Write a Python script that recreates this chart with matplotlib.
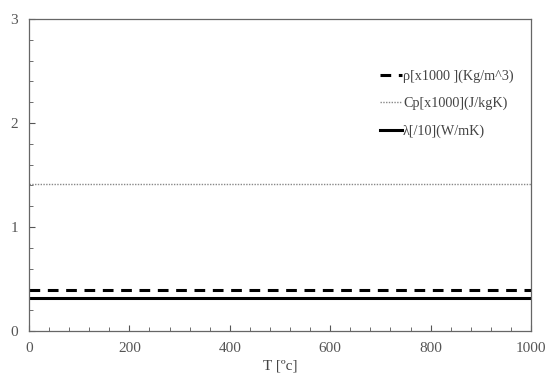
import matplotlib
matplotlib.use("Agg")
import matplotlib.pyplot as plt
from matplotlib.ticker import MultipleLocator

T = [0, 1000]
rho = [0.39, 0.39]
cp = [1.416, 1.416]
lam = [0.32, 0.32]

plt.rcParams['font.family'] = ['Liberation Serif', 'DejaVu Serif']

fig = plt.figure(figsize=(5.49, 3.74), dpi=100)
ax = fig.add_axes([29/549, 1 - 331/374, 502/549, 312/374])

ax.plot(T, rho, color='black', lw=2.2, ls=(0, (3.5, 2.5)), label='ρ[x1000 ](Kg/m^3)')
ax.plot(T, cp, color='#888888', lw=1.0, ls=(0, (1, 1)), label='Cp[x1000](J/kgK)')
ax.plot(T, lam, color='black', lw=2.2, label='λ[/10](W/mK)')

ax.set_xlim(0, 1000)
ax.set_ylim(0, 3)
ax.xaxis.set_major_locator(MultipleLocator(200))
ax.xaxis.set_minor_locator(MultipleLocator(40))
ax.yaxis.set_major_locator(MultipleLocator(1))
ax.yaxis.set_minor_locator(MultipleLocator(0.2))
ax.tick_params(which='both', direction='in', colors='#555555', labelsize=11,
               top=False, right=False)
ax.tick_params(which='major', length=4, pad=8)
ax.tick_params(which='minor', length=3)
for s in ax.spines.values():
    s.set_color('#666666')
    s.set_linewidth(0.9)

ax.set_xlabel('T [ºc]', color='#444444', fontsize=11, labelpad=3)

leg = ax.legend(loc='upper left', bbox_to_anchor=(376/549, 1 - 65/374),
                bbox_transform=fig.transFigure, frameon=False,
                fontsize=10.2, handlelength=1.5, handletextpad=0.1,
                labelspacing=1.0, borderaxespad=0, borderpad=0.3)
for t in leg.get_texts():
    t.set_color('#444444')

fig.savefig('out.png', dpi=100)
